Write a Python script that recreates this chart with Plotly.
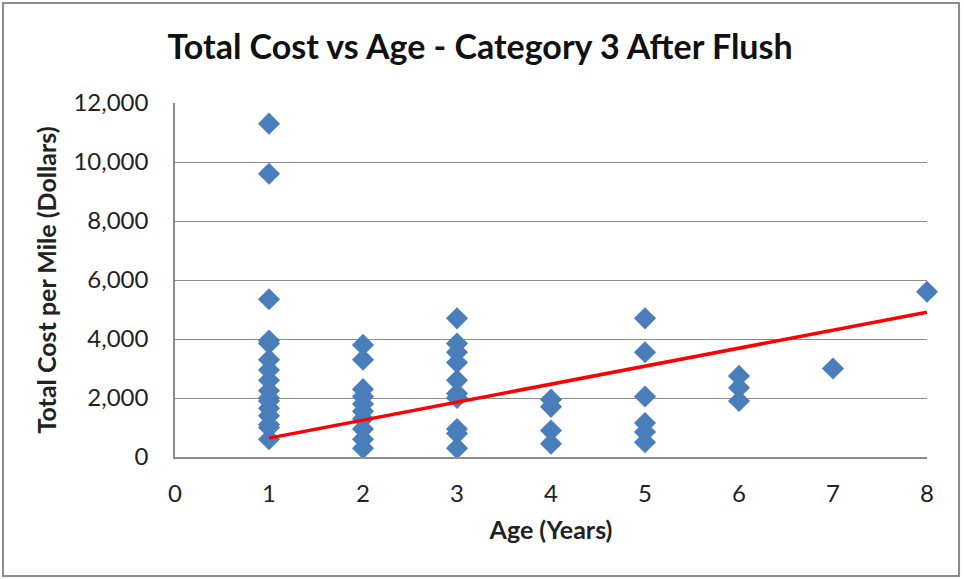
import plotly.graph_objects as go

# Data
age_1 = [11300, 9600, 5350, 3950, 3850, 3300, 2950, 2600, 2250, 2000, 1900, 1650, 1400, 1100, 1000, 600]
age_2 = [3800, 3300, 2300, 2050, 1800, 1550, 1300, 950, 600, 300]
age_3 = [4700, 3850, 3550, 3200, 2600, 2150, 2000, 950, 800, 300]
age_4 = [1950, 1700, 900, 450]
age_5 = [4700, 3550, 2050, 1150, 850, 500]
age_6 = [2750, 2350, 1900]
age_7 = [3000]
age_8 = [5600]

groups = {1: age_1, 2: age_2, 3: age_3, 4: age_4, 5: age_5, 6: age_6, 7: age_7, 8: age_8}
ages = []
costs = []
for a, vals in groups.items():
    ages += [a] * len(vals)
    costs += vals

# Linear trendline
trend_x = [1, 8]
trend_y = [640, 4910]

x_ticks = list(range(0, 9))
y_ticks = list(range(0, 12001, 2000))

FONT = "Lato, Calibri, 'Open Sans', sans-serif"

fig = go.Figure()
fig.add_trace(go.Scatter(
    x=ages, y=costs, mode="markers",
    marker=dict(symbol="diamond", size=17, color="#4A7EBB",
                line=dict(width=0)),
    showlegend=False, cliponaxis=False,
))
fig.add_trace(go.Scatter(
    x=trend_x, y=trend_y, mode="lines",
    line=dict(color="#FF0000", width=3.5),
    showlegend=False,
))

fig.update_layout(
    width=964, height=579,
    margin=dict(l=175, r=37, t=103, b=122),
    paper_bgcolor="white", plot_bgcolor="white",
    font=dict(family=FONT, color="#222222", size=24),
    title=dict(text="<b>Total Cost vs Age - Category 3 After Flush</b>",
               x=0.498, xanchor="center", y=0.919, yanchor="middle",
               font=dict(size=34, family=FONT, color="#111111")),
    xaxis=dict(range=[0, 8], tickvals=x_ticks, showgrid=False,
               showline=True, linecolor="#8C8C8C", linewidth=1.5,
               ticks="", zeroline=False, tickfont=dict(size=24),
               ticklabelstandoff=14,
               title=dict(text="<b>Age (Years)</b>", font=dict(size=25), standoff=16)),
    yaxis=dict(range=[0, 12000], tickvals=y_ticks, tickformat=",d",
               showgrid=True, gridcolor="#8C8C8C", gridwidth=1,
               showline=True, linecolor="#8C8C8C", linewidth=1.5,
               ticks="", zeroline=False, tickfont=dict(size=24),
               ticklabelstandoff=20,
               title=dict(text="<b>Total Cost per Mile (Dollars)</b>", font=dict(size=25), standoff=10)),
    shapes=[dict(type="rect", xref="paper", yref="paper",
                 x0=-0.2287, x1=1.0426, y0=-0.336, y1=1.2825,
                 line=dict(color="#8C8C8C", width=2), layer="below")],
)

fig.write_html("out.html", config={"displayModeBar": False},
               post_script="document.body.style.margin='0';")
